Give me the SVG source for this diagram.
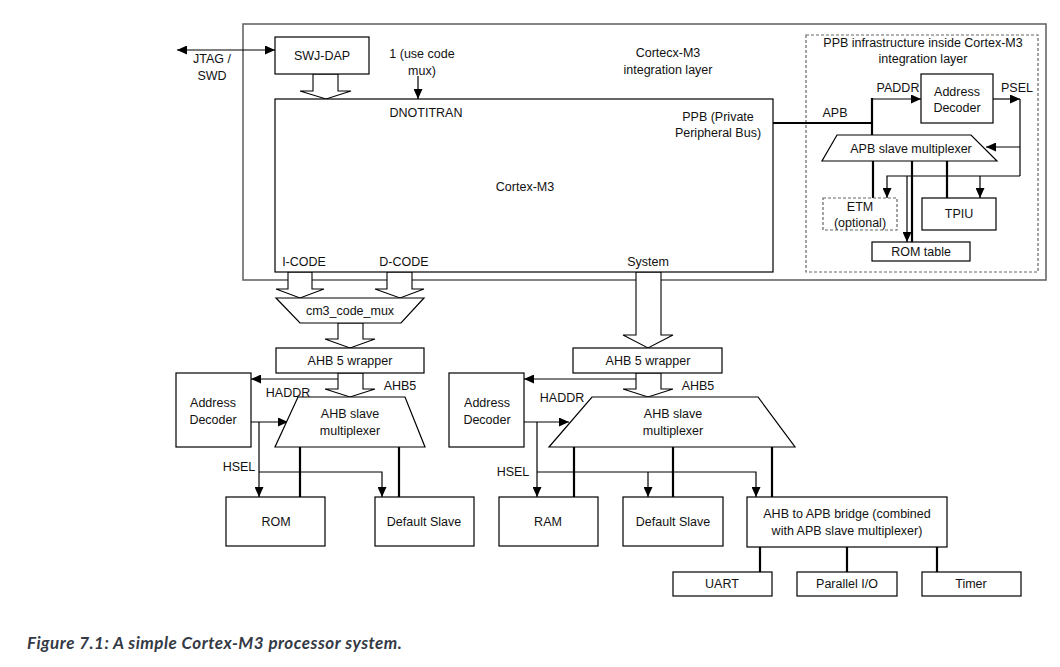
<svg xmlns="http://www.w3.org/2000/svg" width="1060" height="667" viewBox="0 0 1060 667">
<defs>
<marker id="ah" viewBox="0 0 10 9" refX="10" refY="4.5" markerWidth="10" markerHeight="9" markerUnits="userSpaceOnUse" orient="auto-start-reverse"><path d="M0,0 L10,4.5 L0,9 z" fill="#000"/></marker>
<style>
text{font-family:"Liberation Sans",Arial,sans-serif;font-size:12.5px;fill:#111;text-anchor:middle;dominant-baseline:central}
.box{fill:#fff;stroke:#000;stroke-width:1.2}
.outer{fill:none;stroke:#666;stroke-width:1.6}
.dash{fill:#fff;stroke:#666;stroke-width:1.2;stroke-dasharray:3 2}
.dashn{fill:none;stroke:#666;stroke-width:1.2;stroke-dasharray:3 2}
.hol{fill:#fff;stroke:#000;stroke-width:1.1;stroke-linejoin:miter}
.ln{fill:none;stroke:#000;stroke-width:1.2}
.th{fill:none;stroke:#000;stroke-width:2.2}
.arr{marker-end:url(#ah)}
.cap{font-family:Lato,"Open Sans",sans-serif;font-size:17px;letter-spacing:0.5px;font-weight:bold;font-style:italic;fill:#343a45;text-anchor:start;dominant-baseline:auto}
</style>
</defs>
<rect width="1060" height="667" fill="#fff"/>

<g id="integration-layer">
<rect class="outer" x="243" y="24" width="803" height="256"/>
<text x="668" y="53">Cortecx-M3</text>
<text x="668" y="70">integration layer</text>
</g>
<g id="ppb-infra">
<rect class="dashn" x="806" y="35" width="232" height="237"/>
<text x="923" y="43">PPB infrastructure inside Cortex-M3</text>
<text x="923" y="59">integration layer</text>
</g>

<g id="connectors">
<line class="ln arr" x1="177" y1="50" x2="275" y2="50" marker-start="url(#ah)"/>
<line class="ln arr" x1="418" y1="76" x2="418" y2="99"/>
<polygon class="hol" points="313,74 313,91 300,91 326,99 351,91 338,91 338,74"/>
<polygon class="hol" points="288,272 288,289 276,289 300,298 324,289 312,289 312,272"/>
<polygon class="hol" points="387,272 387,289 375,289 400,298 424,289 412,289 412,272"/>
<polygon class="hol" points="338,323 338,339 325,339 350,348 375,339 363,339 363,323"/>
<polygon class="hol" points="636,272 636,335 623,335 648,348 673,335 661,335 661,272"/>
<polygon class="hol" points="338,373 338,389 325,389 350,397 375,389 363,389 363,373"/>
<polygon class="hol" points="636,373 636,389 623,389 648,397 673,389 661,389 661,373"/>
<polyline class="ln arr" points="338,379 251,379"/>
<polyline class="ln arr" points="636,379 524,379"/>
<line class="ln arr" x1="251" y1="422" x2="288" y2="422"/>
<line class="ln arr" x1="259" y1="422" x2="259" y2="497"/>
<polyline class="ln arr" points="259,472 382,472 382,497"/>
<line class="th" x1="300" y1="447" x2="300" y2="497"/>
<line class="th" x1="399" y1="447" x2="399" y2="497"/>
<line class="ln arr" x1="524" y1="422" x2="569" y2="422"/>
<line class="ln arr" x1="537" y1="422" x2="537" y2="497"/>
<polyline class="ln arr" points="537,472 756,472 756,497"/>
<line class="ln arr" x1="648" y1="472" x2="648" y2="497"/>
<line class="th" x1="574" y1="447" x2="574" y2="497"/>
<line class="th" x1="673" y1="447" x2="673" y2="497"/>
<line class="th" x1="772" y1="447" x2="772" y2="497"/>
<line class="th" x1="760" y1="547" x2="760" y2="572"/>
<line class="th" x1="847" y1="547" x2="847" y2="572"/>
<line class="th" x1="937" y1="547" x2="937" y2="572"/>
<polyline class="th" points="773,123 872,123"/>
<line class="th" x1="872" y1="98" x2="872" y2="135"/>
<line class="ln arr" x1="872" y1="99" x2="921" y2="99"/>
<line class="ln arr" x1="993" y1="99" x2="1020" y2="99"/>
<line class="ln" x1="1020" y1="99" x2="1020" y2="176"/>
<line class="ln arr" x1="1020" y1="147" x2="986" y2="147"/>
<polyline class="ln arr" points="1020,176 887,176 887,198"/>
<line class="ln arr" x1="980" y1="176" x2="980" y2="198"/>
<line class="ln arr" x1="907" y1="176" x2="907" y2="242"/>
<line class="th" x1="873" y1="161" x2="873" y2="198"/>
<line class="th" x1="912" y1="161" x2="912" y2="242"/>
<line class="th" x1="947" y1="161" x2="947" y2="198"/>
</g>

<g id="jtag-label"><text x="212" y="59">JTAG /</text><text x="212" y="76">SWD</text></g>
<g id="mux-label"><text x="422" y="54">1 (use code</text><text x="422" y="71">mux)</text></g>

<g id="swj-dap"><rect class="box" x="275" y="37" width="94" height="37"/><text x="322" y="56">SWJ-DAP</text></g>

<g id="cortex-m3">
<rect class="box" x="275" y="99" width="498" height="173"/>
<text x="426" y="113">DNOTITRAN</text>
<text x="718" y="117">PPB (Private</text>
<text x="718" y="133">Peripheral Bus)</text>
<text x="525" y="187">Cortex-M3</text>
<text x="304" y="262">I-CODE</text>
<text x="404" y="262">D-CODE</text>
<text x="648" y="262">System</text>
</g>

<g id="apb-label"><text x="835" y="113">APB</text><text x="898" y="88">PADDR</text><text x="1017" y="88">PSEL</text></g>

<g id="ppb-decoder"><rect class="box" x="921" y="74" width="72" height="49"/><text x="957" y="92">Address</text><text x="957" y="108">Decoder</text></g>
<g id="apb-mux"><polygon class="box" points="837,135 971,135 997,161 822,161"/><text x="911" y="149">APB slave multiplexer</text></g>
<g id="etm"><rect class="dash" x="823" y="198" width="74" height="32"/><text x="860" y="207">ETM</text><text x="860" y="223">(optional)</text></g>
<g id="tpiu"><rect class="box" x="922" y="198" width="74" height="32"/><text x="959" y="214">TPIU</text></g>
<g id="rom-table"><rect class="box" x="872" y="242" width="98" height="19"/><text x="921" y="252">ROM table</text></g>

<g id="code-mux"><polygon class="box" points="276,298 424,298 401,323 300,323"/><text x="350" y="311">cm3_code_mux</text></g>
<g id="wrapper-1"><rect class="box" x="276" y="348" width="148" height="25"/><text x="350" y="361">AHB 5 wrapper</text></g>
<g id="wrapper-2"><rect class="box" x="573" y="348" width="149" height="25"/><text x="648" y="361">AHB 5 wrapper</text></g>

<g id="bus-labels">
<text x="288" y="393">HADDR</text><text x="400" y="386">AHB5</text><text x="239" y="467">HSEL</text>
<text x="562" y="398">HADDR</text><text x="698" y="386">AHB5</text><text x="513" y="472">HSEL</text>
</g>

<g id="decoder-1"><rect class="box" x="176" y="373" width="75" height="74"/><text x="213" y="403">Address</text><text x="213" y="420">Decoder</text></g>
<g id="ahb-mux-1"><polygon class="box" points="298,397 405,397 425,447 275,447"/><text x="350" y="414">AHB slave</text><text x="350" y="431">multiplexer</text></g>
<g id="rom"><rect class="box" x="226" y="497" width="99" height="49"/><text x="276" y="522">ROM</text></g>
<g id="default-slave-1"><rect class="box" x="375" y="497" width="99" height="49"/><text x="424" y="522">Default Slave</text></g>

<g id="decoder-2"><rect class="box" x="449" y="373" width="75" height="74"/><text x="487" y="403">Address</text><text x="487" y="420">Decoder</text></g>
<g id="ahb-mux-2"><polygon class="box" points="592,397 758,397 795,447 549,447"/><text x="673" y="414">AHB slave</text><text x="673" y="431">multiplexer</text></g>
<g id="ram"><rect class="box" x="499" y="497" width="99" height="49"/><text x="548" y="522">RAM</text></g>
<g id="default-slave-2"><rect class="box" x="623" y="497" width="100" height="49"/><text x="673" y="522">Default Slave</text></g>
<g id="bridge"><rect class="box" x="747" y="497" width="200" height="50"/><text x="847" y="514">AHB to APB bridge (combined</text><text x="847" y="531">with APB slave multiplexer)</text></g>
<g id="uart"><rect class="box" x="673" y="572" width="99" height="24"/><text x="722" y="584">UART</text></g>
<g id="pio"><rect class="box" x="797" y="572" width="100" height="24"/><text x="847" y="584">Parallel I/O</text></g>
<g id="timer"><rect class="box" x="922" y="572" width="99" height="24"/><text x="971" y="584">Timer</text></g>

<text class="cap" x="27" y="649">Figure 7.1: A simple Cortex-M3 processor system.</text>
</svg>
